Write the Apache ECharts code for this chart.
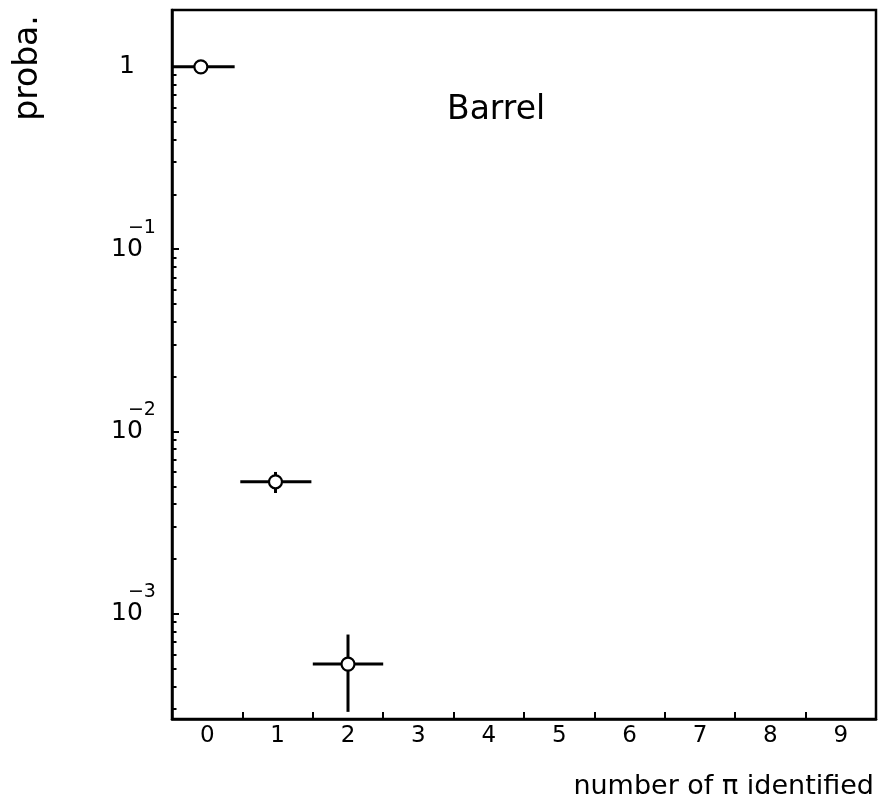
<!DOCTYPE html>
<html>
<head>
<meta charset="utf-8">
<script src="https://cdn.jsdelivr.net/npm/echarts@6/dist/echarts.min.js"></script>
<style>
  html, body { margin: 0; padding: 0; background: #ffffff; }
  #chart { width: 882px; height: 807px; }
</style>
</head>
<body>
<div id="chart"></div>
<script>
// Probability of the number of identified pions (barrel region)
const pointX = [-0.09, 0.97, 2.0];
const pointY = [1.0, 5.3e-3, 5.3e-4];
const xLow   = [-0.5, 0.47, 1.5];
const xHigh  = [0.39, 1.48, 2.5];
const yLow   = [1.0, 4.6e-3, 2.9e-4];
const yHigh  = [1.0, 6.0e-3, 7.7e-4];

// Axis ticks and labels
const xLabelValues = [0, 1, 2, 3, 4, 5, 6, 7, 8, 9];
const xTickValues  = [0.5, 1.5, 2.5, 3.5, 4.5, 5.5, 6.5, 7.5, 8.5];
const yMajorValues = [1e-3, 1e-2, 1e-1, 1];
const yLabelBase   = ['10', '10', '10', '1'];
const yLabelExp    = ['\u22123', '\u22122', '\u22121', ''];
const yMinorValues = [
  3e-4, 4e-4, 5e-4, 6e-4, 7e-4, 8e-4, 9e-4,
  2e-3, 3e-3, 4e-3, 5e-3, 6e-3, 7e-3, 8e-3, 9e-3,
  2e-2, 3e-2, 4e-2, 5e-2, 6e-2, 7e-2, 8e-2, 9e-2,
  2e-1, 3e-1, 4e-1, 5e-1, 6e-1, 7e-1, 8e-1, 9e-1
];

const FONT = 'DejaVu Sans';
const INK = '#000000';

const barData = pointX.map((x, i) => [x, pointY[i], xLow[i], xHigh[i], yLow[i], yHigh[i]]);
const pointData = pointX.map((x, i) => [x, pointY[i]]);

function yLabel(v) {
  const i = yMajorValues.findIndex(t => Math.abs(Math.log10(t) - Math.log10(v)) < 1e-6);
  if (i < 0) return '';
  if (!yLabelExp[i]) return '{b|' + yLabelBase[i] + '}';
  return '{sp| }{b|' + yLabelBase[i] + '}{s|' + yLabelExp[i] + '}';
}

const chart = echarts.init(document.getElementById('chart'), null, { renderer: 'canvas' });

chart.setOption({
  backgroundColor: '#ffffff',
  animation: false,
  grid: {
    left: 172, right: 6, top: 10, bottom: 88,
    show: true, borderColor: INK, borderWidth: 2.5, backgroundColor: 'transparent'
  },
  xAxis: {
    type: 'value', min: -0.5, max: 9.5,
    axisLine: { show: true, onZero: false, lineStyle: { color: INK, width: 2.5 } },
    axisTick: { show: true, inside: true, length: 7, customValues: xTickValues,
                lineStyle: { color: INK, width: 2 } },
    axisLabel: { show: true, customValues: xLabelValues, margin: 6,
                 fontFamily: FONT, fontSize: 23, color: INK },
    splitLine: { show: false }
  },
  yAxis: [
    {
      type: 'log', logBase: 10, min: 2.65e-4, max: 2.05, position: 'left',
      axisLine: { show: true, onZero: false, lineStyle: { color: INK, width: 2.5 } },
      axisTick: { show: true, inside: true, length: 7, customValues: yMajorValues,
                  lineStyle: { color: INK, width: 2 } },
      axisLabel: {
        show: true, customValues: yMajorValues, align: 'center', margin: 45,
        formatter: yLabel,
        rich: {
          b:  { fontFamily: FONT, fontSize: 25, color: INK, lineHeight: 26, verticalAlign: 'middle' },
          s:  { fontFamily: FONT, fontSize: 19, color: INK, lineHeight: 20, verticalAlign: 'middle',
                padding: [0, 0, 43, -15] },
          sp: { fontFamily: FONT, fontSize: 19, width: 13, lineHeight: 20, verticalAlign: 'middle' }
        }
      },
      splitLine: { show: false }
    },
    {
      type: 'log', logBase: 10, min: 2.65e-4, max: 2.05, position: 'left',
      axisLine: { show: false, onZero: false },
      axisTick: { show: true, inside: true, length: 4.5, customValues: yMinorValues,
                  lineStyle: { color: INK, width: 2 } },
      axisLabel: { show: false },
      splitLine: { show: false }
    }
  ],
  graphic: [
    { type: 'text', left: 447, top: 94,
      style: { text: 'Barrel', font: '33px "DejaVu Sans"', fill: INK } },
    { type: 'text', x: 28, y: 68, rotation: Math.PI / 2,
      style: { text: 'proba.', font: '33px "DejaVu Sans"', fill: INK,
               textAlign: 'center', textVerticalAlign: 'middle' } },
    { type: 'text', x: 874, y: 787,
      style: { text: 'number of \u03c0 identified', font: '27px "DejaVu Sans"', fill: INK,
               textAlign: 'right', textVerticalAlign: 'middle' } }
  ],
  series: [
    {
      type: 'custom', name: 'errors', z: 2,
      data: barData,
      encode: { x: 0, y: 1 },
      renderItem: function (params, api) {
        const x = api.value(0), y = api.value(1);
        const l = api.coord([api.value(2), y]);
        const r = api.coord([api.value(3), y]);
        const b = api.coord([x, api.value(4)]);
        const t = api.coord([x, api.value(5)]);
        const st = { stroke: INK, lineWidth: 3 };
        return {
          type: 'group',
          children: [
            { type: 'line', shape: { x1: l[0], y1: l[1], x2: r[0], y2: r[1] }, style: st },
            { type: 'line', shape: { x1: t[0], y1: t[1], x2: b[0], y2: b[1] }, style: st }
          ]
        };
      }
    },
    {
      type: 'scatter', name: 'proba', z: 5,
      data: pointData,
      symbol: 'circle', symbolSize: 13,
      itemStyle: { color: '#ffffff', borderColor: INK, borderWidth: 2.2, opacity: 1 },
      emphasis: { disabled: true }
    }
  ]
});
</script>
</body>
</html>
